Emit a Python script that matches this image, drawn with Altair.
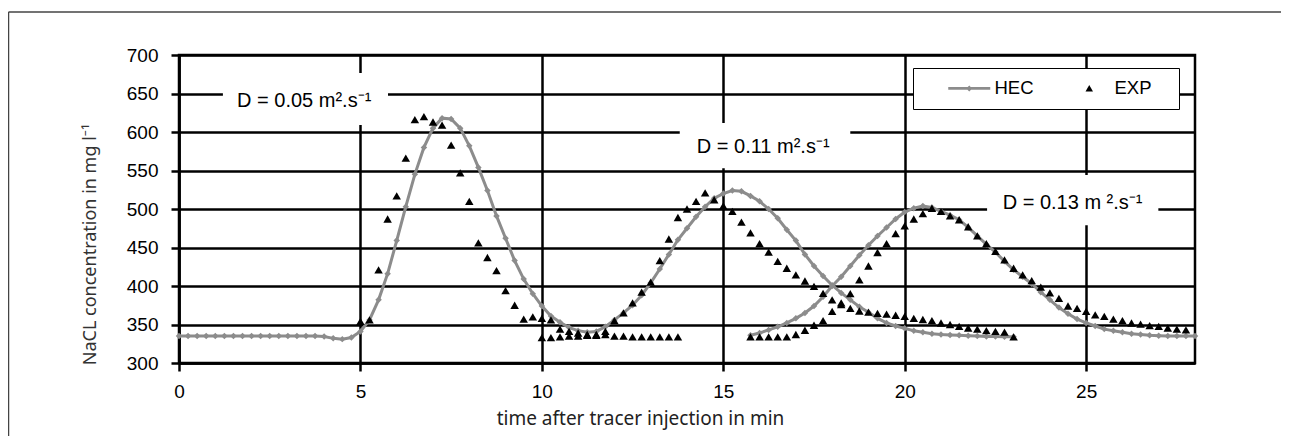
import altair as alt
import pandas as pd

STEP = 0.25  # sampling interval of all series, min


def times(start, n):
    return [round(start + STEP * i, 2) for i in range(n)]


# ---------------- data ----------------
# HEC model, first curve (t = 0 ... 23 min)
hec1_start = 0.0
hec1_values = [
    335, 335, 335, 335, 335, 335, 335, 335, 335, 335, 335, 335, 335, 335, 335, 335,
    334.5, 332, 331, 333, 341, 356, 382, 416, 459, 503, 545, 580, 605, 618, 617, 605,
    582, 554, 524, 491, 462, 433, 409, 390, 374, 361, 353, 346, 342, 340, 341, 347,
    356, 365, 375, 388, 404, 422, 441, 460, 475, 490, 503, 514, 520, 524, 523, 517,
    510, 500, 488, 473, 459, 441, 426, 413, 401, 391, 382, 373, 366, 358, 352, 348,
    345, 342, 340, 338, 337, 336.5, 336, 335.5, 335, 334.5, 334.5, 334, 334,
]
# HEC model, second curve (t = 15.75 ... 28 min)
hec2_start = 15.75
hec2_values = [
    336, 339, 343, 347, 352, 358, 365, 374, 386, 400, 412, 426, 440, 453, 465, 476,
    487, 496, 501, 504, 502, 497, 492, 486, 476, 465, 454, 444, 432, 421, 412, 403,
    392, 382, 372, 364, 357, 352, 348, 344, 342, 340, 338, 337, 336, 335.5, 335, 335,
    335, 335,
]
# EXP measurements
exp1_start = 5.0
exp1_values = [
    354, 356, 421, 487, 517, 566, 616, 620, 613, 609, 583, 547, 510, 456, 437, 420,
    394, 375, 357, 360, 358, 356, 344, 341, 339, 337, 337, 341, 355, 365, 378, 392,
    405, 433, 461, 489, 500, 510, 521, 512, 504, 497, 483, 469, 455, 444, 432, 423,
    414.5, 406.5, 399.5, 390.5, 382, 376, 371, 367.5, 366, 364.5, 363.5, 362, 360.5,
    358, 356.5, 355, 352, 350, 347.5, 345.5, 344, 342, 341, 340, 334,
]
exp2_start = 10.0
exp2_values = [333, 333, 334, 335, 335, 336, 336, 337, 335, 335, 334, 334, 334, 334, 334, 334]
exp3_start = 15.75
exp3_values = [
    334, 334, 334, 334, 334, 337, 342.5, 349, 355, 367, 378, 390, 408, 426, 443.5, 455,
    468, 478, 487, 494, 501, 497, 491, 486, 477, 465, 455, 445, 434, 423, 414.5, 407,
    398.5, 391, 384, 374, 371, 367, 362.5, 360.5, 357, 355, 352, 350.5, 348.5, 347.5,
    345.5, 344, 343,
]

series_names = ["HEC", "EXP"]

# annotations (text and the white boxes behind them), in data units
ann_text = ["D = 0.05 m\u00b2.s\u207b\u00b9", "D = 0.11 m\u00b2.s\u207b\u00b9", "D = 0.13 m \u00b2.s\u207b\u00b9"]
ann_t = [1.6, 14.27, 22.7]
ann_v = [633, 572.4, 500.5]
box_t = [1.21, 13.8, 22.27]
box_t2 = [5.76, 18.5, 26.99]
box_v = [609, 553, 479]
box_v2 = [676.5, 611.6, 544]

# ---------------- tables ----------------
hec_df = pd.DataFrame({
    "t": times(hec1_start, len(hec1_values)) + times(hec2_start, len(hec2_values)),
    "v": hec1_values + hec2_values,
    "run": ["a"] * len(hec1_values) + ["b"] * len(hec2_values),
})
exp_df = pd.DataFrame({
    "t": times(exp1_start, len(exp1_values)) + times(exp2_start, len(exp2_values))
         + times(exp3_start, len(exp3_values)),
    "v": exp1_values + exp2_values + exp3_values,
})
ann_df = pd.DataFrame({"t": ann_t, "v": ann_v, "label": ann_text})
box_df = pd.DataFrame({"t": box_t, "t2": box_t2, "v": box_v, "v2": box_v2})

GRAY = "#8c8c8c"
HEC_PATH = "M-4.2,-0.28L4.2,-0.28L4.2,0.28L-4.2,0.28Z M0,-0.6L0.6,0L0,0.6L-0.6,0Z"
# the trailing move-to draws nothing; it only widens the legend frame on the right
EXP_PATH = "M0,-0.7L0.75,0.62L-0.75,0.62Z M15.6,0"

xscale = alt.Scale(domain=[0, 28], nice=False, zero=False)
yscale = alt.Scale(domain=[300, 700], nice=False, zero=False)
xaxis = alt.Axis(
    values=[0, 5, 10, 15, 20, 25], title="time after tracer injection in min",
    titleX=461, titleY=55, titleAlign="center", titleBaseline="middle",
    titleFont="Noto Sans", titleFontSize=19, titleFontWeight="normal", titleColor="#222222",
    labelPadding=11, tickSize=8, labelFlush=False, grid=True,
)
yaxis = alt.Axis(
    values=[300, 350, 400, 450, 500, 550, 600, 650, 700], title="NaCL concentration in mg l\u207b\u00b9",
    titleX=-89, titleY=189, titleAngle=270, titleAlign="center", titleBaseline="middle",
    titleFont="Noto Sans", titleFontSize=18, titleFontWeight="normal", titleColor="#333333",
    labelPadding=13, tickSize=8, grid=True,
)
X = alt.X("t:Q", scale=xscale, axis=xaxis)
Y = alt.Y("v:Q", scale=yscale, axis=yaxis)

boxes = alt.Chart(box_df).mark_rect(fill="white").encode(
    x=X, x2=alt.X2("t2:Q"), y=Y, y2=alt.Y2("v2:Q"))

texts = alt.Chart(ann_df).mark_text(
    align="left", baseline="alphabetic", font="Liberation Sans", fontSize=20, color="black"
).encode(x=X, y=Y, text="label:N")

hec_line = alt.Chart(hec_df).mark_line(color=GRAY, strokeWidth=3).encode(
    x=X, y=Y, detail="run:N")
hec_pts = alt.Chart(hec_df).mark_point(
    shape="diamond", filled=True, size=42, color=GRAY, opacity=1).encode(x=X, y=Y)
exp_pts = alt.Chart(exp_df).mark_point(
    shape="triangle-up", filled=True, size=72, color="black", opacity=1).encode(x=X, y=Y)

legend_kw = dict(
    orient="none", legendX=734, legendY=13, direction="horizontal", columns=2, title=None,
    padding=11, fillColor="white", strokeColor="black",
    labelFont="Liberation Sans", labelFontSize=18.5, labelColor="black",
    labelOffset=16, symbolOffset=36, columnPadding=10, symbolSize=100,
)
legend_layer = alt.Chart(exp_df).transform_calculate(series="'EXP'").transform_filter(
    "false").mark_point(filled=True, size=100, opacity=1).encode(
    x=X, y=Y,
    shape=alt.Shape("series:N", scale=alt.Scale(domain=series_names, range=[HEC_PATH, EXP_PATH]),
                    legend=alt.Legend(**legend_kw)),
    color=alt.Color("series:N", scale=alt.Scale(domain=series_names, range=[GRAY, "black"]),
                    legend=alt.Legend(**legend_kw)),
)

# outer frame of the figure: only its top and left edges fall inside the picture
one = pd.DataFrame({"k": [0]})
frame_top = alt.Chart(one).mark_rule(color="#444444", strokeWidth=1.5).encode(
    x=alt.value(-170.5), x2=alt.value(1102), y=alt.value(-43))
frame_left = alt.Chart(one).mark_rule(color="#444444", strokeWidth=1.5).encode(
    x=alt.value(-170.5), y=alt.value(-43), y2=alt.value(381))

chart = alt.layer(boxes, texts, hec_line, hec_pts, exp_pts, legend_layer,
                  frame_top, frame_left).properties(
    width=1016, height=308,
    padding={"left": 171, "top": 47, "right": 87, "bottom": 74},
    autosize=alt.AutoSizeParams(type="none"),
    background="white",
).configure_view(stroke="black", strokeWidth=2.5).configure_axis(
    domainColor="black", domainWidth=2.5, gridColor="black", gridWidth=2.5, gridOpacity=1,
    tickColor="black", tickWidth=2.5, labelFont="Liberation Sans", labelFontSize=19,
    labelColor="black",
)

chart.save("out.html", embed_options={"renderer": "svg", "actions": False})
